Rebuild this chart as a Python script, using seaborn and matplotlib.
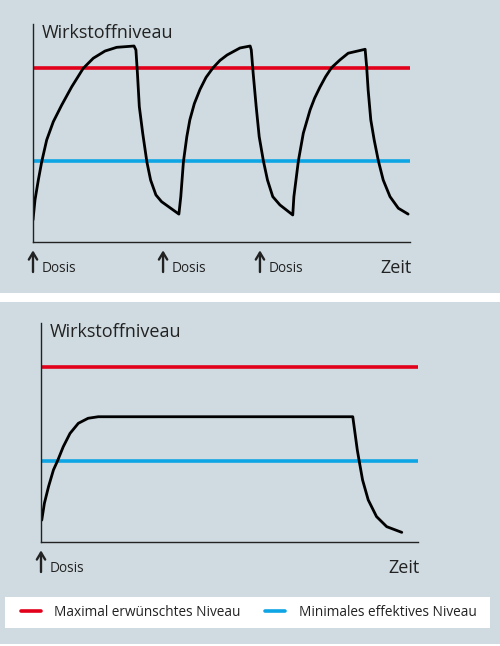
import matplotlib
matplotlib.use("Agg")
import matplotlib.pyplot as plt
from matplotlib.patches import Rectangle
import seaborn as sns

# levels (arbitrary units, 0..100) and time (0..100)
max_level = 80
min_level = 37

# top panel: three doses
top_dose_times = [0, 34.5, 60.2]
top_time = [0, 0.53, 1.41, 2.31, 3.63, 5.39, 7.61, 10.27, 13.34, 15.99, 19.1, 22.2, 26.8,
            27.3, 27.7, 28.2, 29.1, 30.2, 31.2, 32.6, 34.1, 38.7,
            39.2, 39.9, 40.8, 41.6, 42.8, 44.3, 45.9, 47.7, 49.6, 51.5, 54.9, 57.6,
            57.9, 58.4, 59.2, 60.0, 61.1, 62.2, 63.6, 65.5, 68.9,
            69.2, 70.4, 71.7, 73.5, 74.7, 76.1, 77.6, 79.2, 81.4, 83.6, 88.1,
            88.5, 88.9, 89.6, 90.5, 91.6, 92.9, 94.7, 96.9, 99.5]
top_level = [10.1, 19.3, 28.4, 36.8, 46.8, 55.2, 62.8, 71.2, 79.7, 84.3, 87.6, 89.3, 89.9,
             88.1, 77.4, 62.1, 49.9, 36.8, 28.4, 21.6, 18.5, 12.8,
             20.8, 36.8, 48.3, 56.0, 63.5, 70.0, 75.5, 79.8, 83.3, 85.8, 89.0, 89.9,
             88.1, 77.4, 62.1, 48.3, 37.3, 28.4, 20.8, 17.0, 12.4,
             20.8, 37.3, 49.9, 60.6, 66.0, 71.0, 75.8, 80.0, 83.5, 86.6, 88.4,
             80.4, 69.7, 56.0, 46.8, 37.3, 28.4, 20.8, 15.5, 12.8]

# bottom panel: one dose, steady level
bottom_dose_times = [0]
bottom_time = [0.2, 0.9, 2.0, 3.3, 4.4, 5.9, 7.7, 9.9, 12.5, 15.2, 82.7,
               83.3, 83.9, 84.4, 85.3, 86.8, 89.0, 91.7, 95.7]
bottom_level = [10.0, 17.7, 25.3, 32.9, 37.1, 43.5, 49.6, 54.2, 56.5, 57.2, 57.2,
                49.6, 42.0, 37.0, 28.3, 19.2, 11.6, 7.0, 4.4]

bg = "#cfdbe1"
red = "#e2001a"
blue = "#0ea5e4"
dark = "#222222"

sns.set_style("white")
plt.rcParams["font.family"] = ["Open Sans", "DejaVu Sans"]

fig = plt.figure(figsize=(5, 6.46), dpi=100)
fig.patch.set_facecolor("white")
H = 646.0
# panel backgrounds and white legend box
fig.patches.append(Rectangle((0, 1 - 293 / H), 1, 293 / H, transform=fig.transFigure,
                             facecolor=bg, edgecolor="none", zorder=-2))
fig.patches.append(Rectangle((0, 1 - 644 / H), 1, 342 / H, transform=fig.transFigure,
                             facecolor=bg, edgecolor="none", zorder=-2))
fig.patches.append(Rectangle((5 / 500, 1 - 628 / H), 485 / 500, 31 / H, transform=fig.transFigure,
                             facecolor="white", edgecolor="none", zorder=-1))

ax_top = fig.add_axes([33 / 500, 1 - 242 / H, 377 / 500, 218 / H])
ax_bot = fig.add_axes([41 / 500, 1 - 542 / H, 377 / 500, 219 / H])


def draw_panel(ax, t, lvl, doses):
    ax.set_facecolor("none")
    red_line = ax.axhline(max_level, color=red, lw=2.6, label="Maximal erwünschtes Niveau")
    blue_line = ax.axhline(min_level, color=blue, lw=2.6, label="Minimales effektives Niveau")
    sns.lineplot(x=t, y=lvl, ax=ax, color="black", lw=2, sort=False, estimator=None,
                 legend=False, solid_joinstyle="round", solid_capstyle="round")
    ax.set_xlim(0, 100)
    ax.set_ylim(0, 100)
    ax.set_xticks([])
    ax.set_yticks([])
    ax.set_xlabel("")
    ax.set_ylabel("")
    for s in ["top", "right"]:
        ax.spines[s].set_visible(False)
    for s in ["left", "bottom"]:
        ax.spines[s].set_color(dark)
        ax.spines[s].set_linewidth(1)
    ax.text(0.024, 0.936, "Wirkstoffniveau", transform=ax.transAxes, fontsize=13,
            color=dark, ha="left", va="baseline")
    ax.annotate("Zeit", xy=(1, 0), xycoords="axes fraction", xytext=(2, -31),
                textcoords="offset pixels", fontsize=13, color=dark, ha="right", va="baseline")
    for d in doses:
        ax.annotate("", xy=(d, 0), xycoords=("data", "axes fraction"), xytext=(0, -30),
                    textcoords="offset pixels",
                    arrowprops=dict(arrowstyle="->,head_length=0.5,head_width=0.3",
                                    color=dark, lw=1.7, shrinkA=0, shrinkB=6))
        ax.annotate("Dosis", xy=(d, 0), xycoords=("data", "axes fraction"), xytext=(9, -30),
                    textcoords="offset pixels", fontsize=9.8, color=dark,
                    ha="left", va="baseline", annotation_clip=False)
    return red_line, blue_line


draw_panel(ax_top, top_time, top_level, top_dose_times)
handles = draw_panel(ax_bot, bottom_time, bottom_level, bottom_dose_times)

leg = fig.legend(handles=list(handles), loc="center left", ncol=2,
                 bbox_to_anchor=(21 / 500, 1 - 612 / H),
                 borderaxespad=0, borderpad=0, frameon=False, fontsize=9.8,
                 handlelength=1.45, handletextpad=1.0, columnspacing=1.8)
for txt in leg.get_texts():
    txt.set_color(dark)

fig.savefig("out.png", dpi=100, facecolor=fig.get_facecolor())
